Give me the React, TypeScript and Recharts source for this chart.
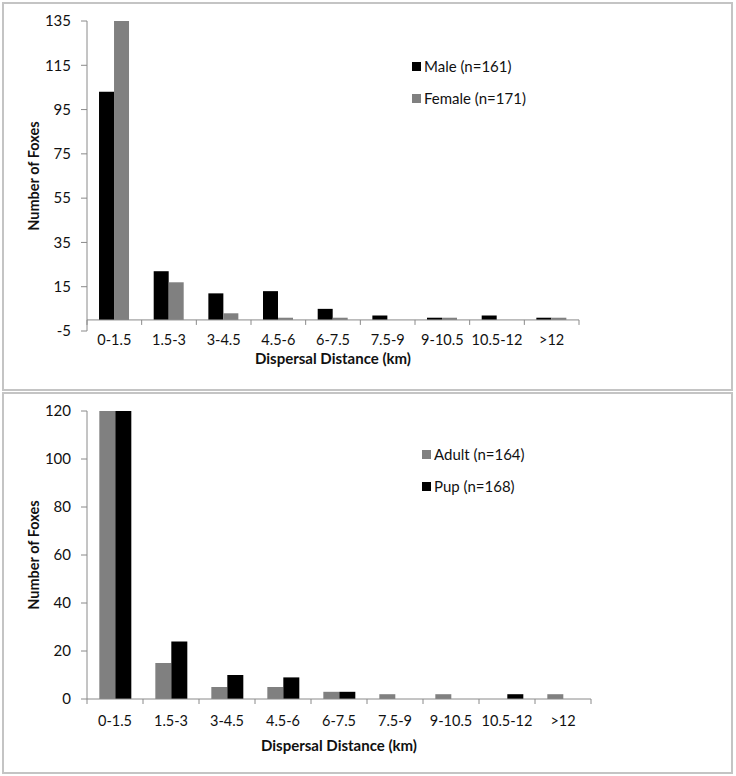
import React from "react";
import { BarChart, Bar, XAxis, YAxis, ReferenceLine, Legend } from "recharts";

const categories = ["0-1.5", "1.5-3", "3-4.5", "4.5-6", "6-7.5", "7.5-9", "9-10.5", "10.5-12", ">12"];
const male = [103, 22, 12, 13, 5, 2, 1, 2, 1];
const female = [135, 17, 3, 1, 1, 0, 1, 0, 1];
const adult = [120, 15, 5, 5, 3, 2, 2, 0, 2];
const pup = [120, 24, 10, 9, 3, 0, 0, 2, 0];
const sexTicks = [-5, 15, 35, 55, 75, 95, 115, 135];
const ageTicks = [0, 20, 40, 60, 80, 100, 120];

const sexData = categories.map((cat, i) => ({ cat, male: male[i], female: female[i] }));
const ageData = categories.map((cat, i) => ({ cat, adult: adult[i], pup: pup[i] }));

const FONT = "Lato, 'Open Sans', sans-serif";
const AXIS = "#8a8a8a";
const GRAY = "#808080";
const BORDER = "#c4c4c4";

// top chart layout
const W = 736;
const TOP_H = 390;
const TOP_M = { top: 21, right: 157, bottom: 0, left: 0 };
const TOP_XH = 59;
const TOP_PLOT_W = W - TOP_M.left - TOP_M.right - 87;
const TOP_PLOT_H = TOP_H - TOP_M.top - TOP_XH;
const topZeroOffset = (TOP_PLOT_H * (0 - sexTicks[0])) / (sexTicks[sexTicks.length - 1] - sexTicks[0]);

// bottom chart layout
const BOT_H = 384;
const BOT_M = { top: 21, right: 145, bottom: 0, left: 0 };
const BOT_XH = 75;
const BOT_PLOT_W = W - BOT_M.left - BOT_M.right - 87;

function makeTick(plotW: number, zeroOffset: number, labelDy: number) {
  const band = plotW / categories.length;
  return (p: any) => {
    const { x, y, payload, index } = p;
    const zy = y - zeroOffset;
    return (
      <g>
        <line x1={x - band / 2} x2={x - band / 2} y1={zy} y2={zy + 5} stroke={AXIS} />
        {index === categories.length - 1 && (
          <line x1={x + band / 2} x2={x + band / 2} y1={zy} y2={zy + 5} stroke={AXIS} />
        )}
        <text x={x} y={y + labelDy} textAnchor="middle" fontSize={14.5} fontFamily={FONT} fill="#111">
          {payload.value}
        </text>
      </g>
    );
  };
}

function yLabel(props: any) {
  const vb = props.viewBox;
  const cy = vb.y + vb.height / 2;
  return (
    <text
      transform={`translate(33, ${cy}) rotate(-90)`}
      textAnchor="middle"
      dominantBaseline="central"
      fontSize={14.5}
      fontWeight="bold"
      fontFamily={FONT}
      fill="#111"
    >
      Number of Foxes
    </text>
  );
}

function xLabel(dy: number) {
  return (props: any) => {
    const vb = props.viewBox;
    return (
      <text
        x={vb.x + vb.width / 2}
        y={vb.y + dy}
        textAnchor="middle"
        fontSize={15}
        fontWeight="bold"
        fontFamily={FONT}
        fill="#111"
      >
        Dispersal Distance (km)
      </text>
    );
  };
}

function legendBox(items: { label: string; color: string }[]) {
  return () => (
    <div style={{ fontFamily: FONT, fontSize: 15, color: "#111" }}>
      {items.map((it) => (
        <div key={it.label} style={{ display: "flex", alignItems: "center", height: 32 }}>
          <span style={{ width: 9, height: 9, background: it.color, marginRight: 3, display: "inline-block" }} />
          <span>{it.label}</span>
        </div>
      ))}
    </div>
  );
}

export default function App() {
  return (
    <div style={{ position: "absolute", left: 0, top: 0, width: W, height: 776, background: "#fff" }}>
      <div
        style={{
          position: "absolute",
          left: 2,
          top: 2,
          width: 731,
          height: 389,
          border: `2px solid ${BORDER}`,
          boxSizing: "border-box",
        }}
      />
      <div
        style={{
          position: "absolute",
          left: 2,
          top: 392,
          width: 731,
          height: 382,
          border: `2px solid ${BORDER}`,
          boxSizing: "border-box",
        }}
      />

      <div style={{ position: "absolute", left: 0, top: 0 }}>
        <BarChart width={W} height={TOP_H} data={sexData} margin={TOP_M} barCategoryGap="22%" barGap={0}>
          <XAxis
            dataKey="cat"
            axisLine={false}
            tickLine={false}
            tickSize={0}
            tickMargin={0}
            height={TOP_XH}
            interval={0}
            tick={makeTick(TOP_PLOT_W, topZeroOffset, 14)}
            label={{ content: xLabel(33) }}
          />
          <YAxis
            width={87}
            domain={[sexTicks[0], sexTicks[sexTicks.length - 1]]}
            ticks={sexTicks}
            interval={0}
            allowDataOverflow
            axisLine={{ stroke: AXIS }}
            tickLine={{ stroke: AXIS }}
            tickSize={6}
            tickMargin={10}
            tick={{ fill: "#111", fontSize: 15, fontFamily: FONT }}
            label={{ content: yLabel }}
          />
          <ReferenceLine y={0} stroke={AXIS} />
          <Legend
            layout="vertical"
            align="center"
            verticalAlign="middle"
            wrapperStyle={{ left: 412, top: 50, width: "auto", height: "auto" }}
            content={legendBox([
              { label: "Male (n=161)", color: "#000" },
              { label: "Female (n=171)", color: GRAY },
            ])}
          />
          <Bar dataKey="male" fill="#000" isAnimationActive={false} />
          <Bar dataKey="female" fill={GRAY} isAnimationActive={false} />
        </BarChart>
      </div>

      <div style={{ position: "absolute", left: 0, top: 390 }}>
        <BarChart width={W} height={BOT_H} data={ageData} margin={BOT_M} barCategoryGap="22%" barGap={0}>
          <XAxis
            dataKey="cat"
            axisLine={{ stroke: AXIS }}
            tickLine={false}
            tickSize={0}
            tickMargin={0}
            height={BOT_XH}
            interval={0}
            tick={makeTick(BOT_PLOT_W, 0, 27)}
            label={{ content: xLabel(52) }}
          />
          <YAxis
            width={87}
            domain={[ageTicks[0], ageTicks[ageTicks.length - 1]]}
            ticks={ageTicks}
            interval={0}
            allowDataOverflow
            axisLine={{ stroke: AXIS }}
            tickLine={{ stroke: AXIS }}
            tickSize={6}
            tickMargin={10}
            tick={{ fill: "#111", fontSize: 15, fontFamily: FONT }}
            label={{ content: yLabel }}
          />
          <Legend
            layout="vertical"
            align="center"
            verticalAlign="middle"
            wrapperStyle={{ left: 422, top: 48, width: "auto", height: "auto" }}
            content={legendBox([
              { label: "Adult (n=164)", color: GRAY },
              { label: "Pup (n=168)", color: "#000" },
            ])}
          />
          <Bar dataKey="adult" fill={GRAY} isAnimationActive={false} />
          <Bar dataKey="pup" fill="#000" isAnimationActive={false} />
        </BarChart>
      </div>
    </div>
  );
}
